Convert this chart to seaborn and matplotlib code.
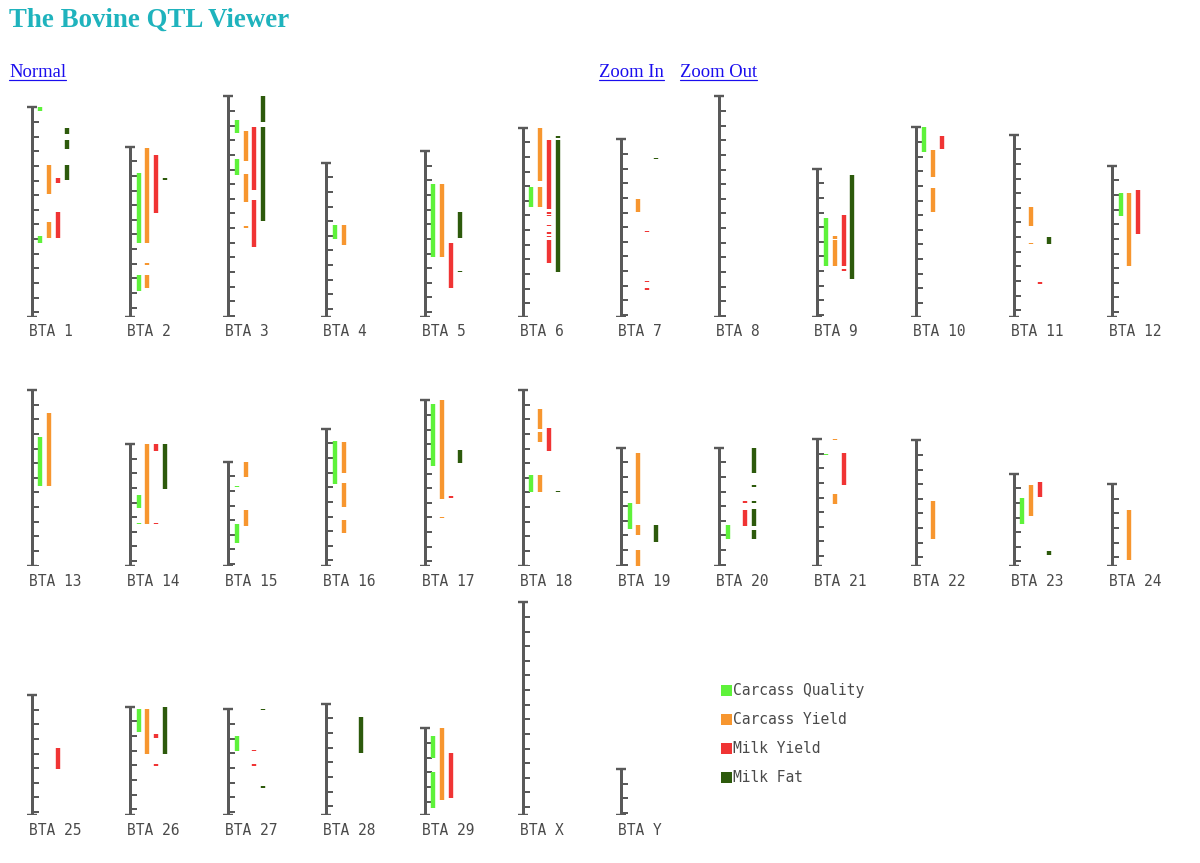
import matplotlib
matplotlib.use("Agg")
import matplotlib.pyplot as plt
import numpy as np
import pandas as pd
import seaborn as sns

# chromosome names and lengths (cM, measured from the top of each bar)
chrom_names = [str(i) for i in range(1, 30)] + ["X", "Y"]
chrom_lengths = [143.3, 116.4, 150.8, 105.5, 113.4, 129.4, 121.4, 150.8, 101.4, 129.6,
                 124.6, 103.4, 120.3, 83.4, 71.3, 93.8, 113.2, 120.3, 80.9, 80.9,
                 86.8, 85.9, 63.1, 56.0, 82.0, 74.0, 72.2, 76.0, 59.2, 145.4, 31.5]

traits = ["Carcass Quality", "Carcass Yield", "Milk Yield", "Milk Fat"]
trait_colors = ["#5ef23a", "#f7962f", "#f03434", "#2d5a0c"]

# QTL intervals per trait: chromosome -> [(start, end)] in cM from top
carcass_quality = {
    "1": [(0, 2.5), (88, 93)],
    "2": [(17.8, 65.6), (87.9, 98.6)],
    "3": [(16, 24.8), (43, 53.7)],
    "4": [(42.8, 52.4)],
    "5": [(22.8, 72.7)],
    "6": [(40.3, 54.4)],
    "9": [(33.5, 66.5)],
    "10": [(0, 16.6)],
    "12": [(18.7, 34.6)],
    "13": [(31.9, 65.8)],
    "14": [(34.9, 44), (54, 55)],
    "15": [(16.4, 17.5), (42.8, 55.8)],
    "16": [(8.4, 38)],
    "17": [(2.5, 44.6)],
    "18": [(57.9, 69.9)],
    "19": [(38, 55.4)],
    "20": [(52.6, 62.4)],
    "21": [(10.3, 11.2)],
    "23": [(16.9, 34.6)],
    "26": [(1.6, 17.5)],
    "27": [(18, 28.7)],
    "29": [(5, 20.5), (29.8, 54.7)],
}
carcass_yield = {
    "1": [(39.4, 59.5), (78.6, 89.3)],
    "2": [(0.7, 65.6), (79.2, 80.6), (87.9, 96.6)],
    "3": [(23.9, 43.9), (53, 72), (88.8, 89.7)],
    "4": [(42.8, 56.5)],
    "5": [(22.8, 72.7)],
    "6": [(0, 36.2), (40.3, 54.4)],
    "7": [(40.5, 49.9)],
    "9": [(46.2, 47.8), (48.7, 66.5)],
    "10": [(15.7, 33.7), (41.7, 58.1)],
    "11": [(49.7, 62.6), (73.8, 74.9)],
    "12": [(18.7, 68.6)],
    "13": [(15.5, 65.8)],
    "14": [(0, 54.9)],
    "15": [(0, 10.7), (33, 43.7)],
    "16": [(9.3, 30.3), (37.4, 53.3), (62.4, 71.3)],
    "17": [(0, 67.4), (79.5, 80.6)],
    "18": [(12.8, 26.7), (28.7, 35.8), (57.9, 69.9)],
    "19": [(3.6, 38.3), (52.6, 59.5), (69.7, 80.9)],
    "21": [(0, 0.8), (37.8, 44.6)],
    "22": [(41.5, 67.4)],
    "23": [(7.7, 28.9)],
    "24": [(17.8, 51.7)],
    "26": [(1.6, 32.3)],
    "29": [(0, 48.7)],
}
milk_yield = {
    "1": [(48.3, 51.5), (71.5, 89.5)],
    "2": [(5.7, 45.6)],
    "3": [(21, 63.8), (70.8, 103)],
    "5": [(62.6, 93.6)],
    "6": [(8.4, 55.6), (57.9, 58.8), (59.7, 60.6), (66.5, 67.4), (71.5, 72.4),
          (73.8, 74.7), (76.8, 92.7)],
    "7": [(62.3, 63.6), (96.6, 97.7), (101.6, 103)],
    "9": [(31.7, 66.5), (68.6, 69.7)],
    "10": [(5.7, 14.8)],
    "11": [(100.7, 101.8)],
    "12": [(16.4, 46.9)],
    "14": [(0, 4.8), (54, 55)],
    "17": [(65.6, 66.7)],
    "18": [(25.7, 41.7)],
    "20": [(36.4, 37.6), (42.6, 53.5)],
    "21": [(9.3, 31.7)],
    "23": [(5.7, 15.7)],
    "25": [(36.4, 50.6)],
    "26": [(18.5, 21.4), (39.4, 40.3)],
    "27": [(27.8, 28.7), (37.6, 38.5)],
    "29": [(16.9, 47.6)],
}
milk_fat = {
    "1": [(14.4, 18.2), (22.6, 28.5), (39.4, 49.4)],
    "2": [(21.6, 22.6)],
    "3": [(0, 17.8), (21, 85)],
    "5": [(41.7, 59.7), (81.8, 82.7)],
    "6": [(5.5, 6.8), (8.7, 98.9)],
    "7": [(12.5, 13.7)],
    "9": [(4.6, 75.6)],
    "11": [(69.7, 74.9)],
    "14": [(0, 30.8)],
    "17": [(33.7, 42.6)],
    "18": [(68.8, 69.8)],
    "19": [(52.6, 64.5)],
    "20": [(0, 17.5), (25.5, 26.7), (36.4, 37.6), (41.7, 53.5), (56.5, 62.4)],
    "23": [(52.6, 55.8)],
    "26": [(0, 32.3)],
    "27": [(-0.5, 0.5), (52.6, 53.8)],
    "28": [(8.7, 33.5)],
}

links = ["Normal", "Zoom In", "Zoom Out"]

# layout (pixels)
W, H = 1200, 863
SCALE = 1.463          # px per cM, one tick every 10 cM
COL_X0, COL_DX = 31.7, 98.2
ROW_BASE = [317, 566, 815]
TRACK_DX = 8.75
PT = 0.72              # points per pixel at 100 dpi
GREY = "#595959"
TEXT_GREY = "#4a4a4a"

sns.set_style("white")
plt.rcParams["font.family"] = ["DejaVu Sans Mono"]

fig = plt.figure(figsize=(W / 100, H / 100), dpi=100)
fig.patch.set_facecolor("white")

# long-form table of all QTL spans
rows = []
for trait, table in zip(traits, [carcass_quality, carcass_yield, milk_yield, milk_fat]):
    for chrom, spans in table.items():
        for a, b in spans:
            rows.append({"chrom": chrom, "trait": trait, "start": a, "end": b})
qtl = pd.DataFrame(rows)

# overlay axes in pixel coords for title, links and legend
ax0 = fig.add_axes([0, 0, 1, 1])
ax0.set_xlim(0, W)
ax0.set_ylim(H, 0)
ax0.axis("off")

ax0.text(9, 27, "The Bovine QTL Viewer", family=["Liberation Serif"], fontweight="bold",
         fontsize=19.4, color="#1fb3bd", va="baseline")

link_texts = []
for label, x in zip(links, [9, 599, 680]):
    t = ax0.text(x, 77, label, family=["Liberation Serif"], fontsize=13.4,
                 color="#1a0dee", va="baseline")
    link_texts.append(t)

# chromosomes
for i, (name, length) in enumerate(zip(chrom_names, chrom_lengths)):
    row, col = divmod(i, 12)
    x0 = COL_X0 + col * COL_DX
    base = ROW_BASE[row]
    ax = fig.add_axes([(x0 - 12) / W, (H - base) / H, 60 / W, 240 / H])
    ax.set_xlim(-12, 48)
    ax.set_ylim(length, length - 240 / SCALE)
    ax.axis("off")

    ax.vlines(0, 0, length, color=GREY, lw=3 * PT, capstyle="butt")
    ax.hlines([0, length], -5, 5, color=GREY, lw=2.4 * PT)
    ax.hlines(np.arange(10, length, 10), 0, 7, color=GREY, lw=2 * PT)

    sub = qtl[qtl["chrom"] == name]
    for k, trait in enumerate(traits):
        s = sub[sub["trait"] == trait]
        if len(s):
            ax.vlines(np.full(len(s), (k + 1) * TRACK_DX), s["start"], s["end"],
                      color=trait_colors[k], lw=4.4 * PT, capstyle="butt")

    ax.annotate(f"BTA {name}", xy=(0, 0), xycoords=("data", "axes fraction"),
                xytext=(-3, -15), textcoords="offset pixels", ha="left", va="center",
                fontsize=10.5, color=TEXT_GREY, annotation_clip=False)

# legend
leg = pd.DataFrame({"trait": traits, "x": 726.5, "y": [690 + 29 * k for k in range(4)]})
sns.scatterplot(data=leg, x="x", y="y", hue="trait", palette=dict(zip(traits, trait_colors)),
                marker="s", s=(11 * PT) ** 2, linewidth=0, legend=False, ax=ax0)
for _, r in leg.iterrows():
    ax0.text(733, r["y"], r["trait"], fontsize=10.5, color=TEXT_GREY, va="center", ha="left")
ax0.set_xlim(0, W)
ax0.set_ylim(H, 0)
ax0.axis("off")

# underline the links
fig.canvas.draw()
renderer = fig.canvas.get_renderer()
for t in link_texts:
    bb = t.get_window_extent(renderer)
    ax0.plot([bb.x0, bb.x1], [80, 80], color="#1a0dee", lw=1.2 * PT)

fig.savefig("out.png", dpi=100, facecolor="white")
